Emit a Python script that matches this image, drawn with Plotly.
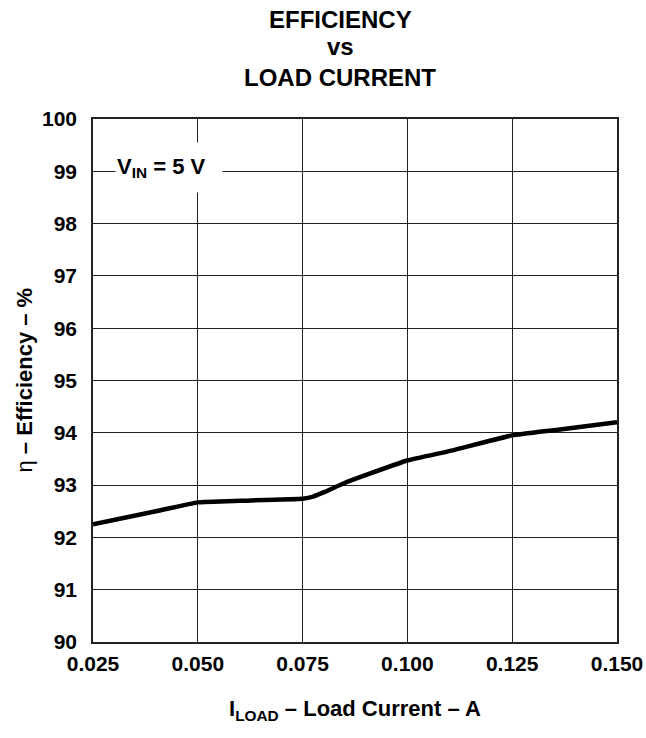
import plotly.graph_objects as go

load_current = [0.025, 0.040, 0.050, 0.060, 0.075, 0.0775, 0.080, 0.085, 0.090, 0.100, 0.110, 0.125, 0.135, 0.150]
efficiency = [92.25, 92.50, 92.67, 92.70, 92.74, 92.78, 92.86, 93.04, 93.19, 93.47, 93.65, 93.95, 94.05, 94.20]

x_ticks = [0.025, 0.050, 0.075, 0.100, 0.125, 0.150]
x_tick_text = ["0.025", "0.050", "0.075", "0.100", "0.125", "0.150"]
y_ticks = list(range(90, 101))

FONT = "Liberation Sans, Arial, sans-serif"

FIG_W, FIG_H = 646, 738
PLOT_TOP, PLOT_BOTTOM, PLOT_LEFT, PLOT_RIGHT = 119, 642, 93, 617
PH = PLOT_BOTTOM - PLOT_TOP
PW = PLOT_RIGHT - PLOT_LEFT

fig = go.Figure()
fig.add_trace(go.Scatter(
    x=load_current, y=efficiency, mode="lines",
    line=dict(color="black", width=4.5, shape="spline", smoothing=0.3),
    showlegend=False, hoverinfo="skip"))

fig.update_layout(
    width=FIG_W, height=FIG_H,
    margin=dict(l=PLOT_LEFT, r=FIG_W - PLOT_RIGHT, t=PLOT_TOP, b=FIG_H - PLOT_BOTTOM,
                autoexpand=False),
    paper_bgcolor="white", plot_bgcolor="white",
    font=dict(family=FONT, color="black", size=21),
    showlegend=False,
)
fig.update_xaxes(
    range=[0.025, 0.150], tickvals=x_ticks, ticktext=x_tick_text,
    showgrid=True, gridcolor="#222", gridwidth=1,
    showline=True, linecolor="#222", linewidth=1.5, mirror=True,
    ticks="", zeroline=False, automargin=False,
    tickfont=dict(family=FONT, size=21, color="black", weight="bold"),
    ticklabelstandoff=2,
)
fig.update_yaxes(
    range=[90, 100], tickvals=y_ticks,
    showgrid=True, gridcolor="#222", gridwidth=1,
    showline=True, linecolor="#222", linewidth=1.5, mirror=True,
    ticks="", zeroline=False, automargin=False,
    tickfont=dict(family=FONT, size=21, color="black", weight="bold"),
    ticklabelstandoff=10,
)

def py(page_y):
    return (PLOT_BOTTOM - page_y) / PH

def px(page_x):
    return (page_x - PLOT_LEFT) / PW

# Title lines
for txt, yy in [("EFFICIENCY", 20), ("vs", 47), ("LOAD CURRENT", 77)]:
    fig.add_annotation(text="<b>" + txt + "</b>", xref="paper", yref="paper",
                       x=px(340), y=py(yy), xanchor="center", yanchor="middle",
                       showarrow=False, font=dict(family=FONT, size=24, color="black"))

# Axis titles
fig.add_annotation(text="<b>I<sub>LOAD</sub> – Load Current – A</b>", xref="paper", yref="paper",
                   x=0.5, y=py(710), xanchor="center", yanchor="middle",
                   showarrow=False, font=dict(family=FONT, size=22, color="black"))
fig.add_annotation(text="η <b>– Efficiency – %</b>", xref="paper", yref="paper",
                   x=px(24), y=0.5, xanchor="center", yanchor="middle", textangle=-90,
                   showarrow=False, font=dict(family=FONT, size=22, color="black"))

# V_IN label
fig.add_annotation(text="<b>V<sub>IN</sub> = 5 V</b>", xref="paper", yref="paper",
                   x=px(169), y=py(167.5), xanchor="center", yanchor="middle",
                   showarrow=False, bgcolor="white", width=104, height=47, align="left",
                   borderpad=1, font=dict(family=FONT, size=22, color="black"))

fig.write_html("out.html", config={"displayModeBar": False},
               post_script="document.body.style.margin='0';document.body.style.overflow='hidden';")
